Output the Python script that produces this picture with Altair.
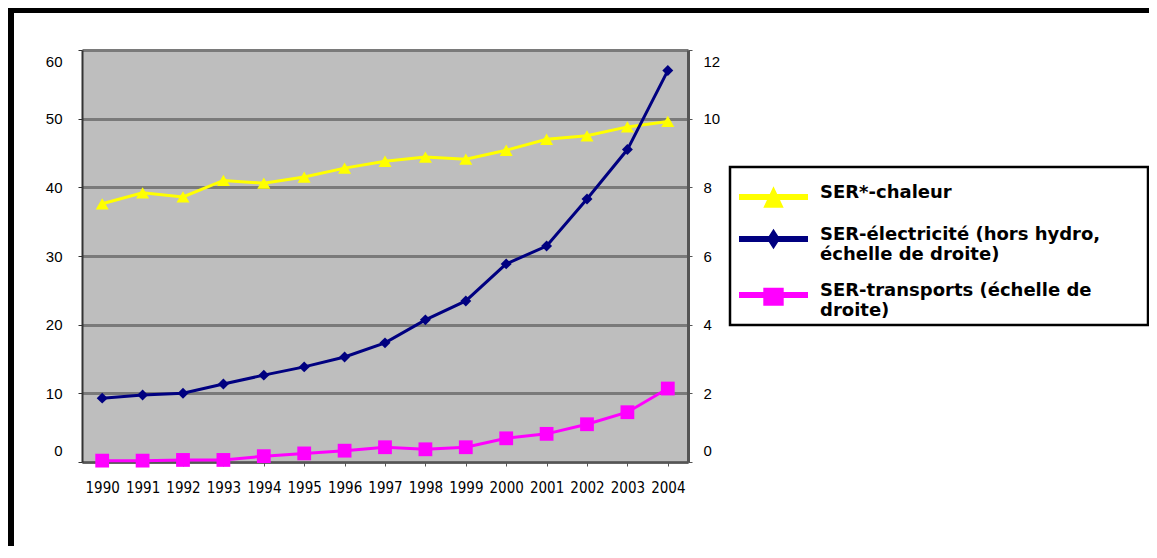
import altair as alt
import pandas as pd

# ---- data ----
years = [1990, 1991, 1992, 1993, 1994, 1995, 1996, 1997, 1998, 1999, 2000, 2001, 2002, 2003, 2004]
chaleur = [37.6, 39.2, 38.6, 41.0, 40.6, 41.5, 42.8, 43.8, 44.4, 44.1, 45.4, 47.0, 47.5, 48.8, 49.6]
electricite = [1.86, 1.95, 2.0, 2.27, 2.53, 2.77, 3.06, 3.47, 4.14, 4.69, 5.77, 6.29, 7.66, 9.1, 11.4]
transports = [0.04, 0.04, 0.06, 0.06, 0.17, 0.25, 0.33, 0.43, 0.37, 0.43, 0.69, 0.82, 1.10, 1.45, 2.14]

series_names = [
    "SER*-chaleur",
    "SER-électricité (hors hydro,|échelle de droite)",
    "SER-transports (échelle de|droite)",
]
series_colors = ["#ffff00", "#000080", "#ff00ff"]
left_ticks = [0, 10, 20, 30, 40, 50, 60]
right_ticks = [0, 2, 4, 6, 8, 10, 12]

# legend symbols: thick line + marker (custom paths, unit = 12 px, shifted down)
legend_paths = [
    "M-2.875,0.83L2.875,0.83L2.875,1.33L-2.875,1.33Z M0,0.18L0.85,1.98L-0.85,1.98Z",
    "M-2.875,0.83L2.875,0.83L2.875,1.33L-2.875,1.33Z M0,0.23L0.55,1.08L0,1.93L-0.55,1.08Z",
    "M-2.875,0.83L2.875,0.83L2.875,1.33L-2.875,1.33Z M-0.85,0.48L0.85,0.48L0.85,1.98L-0.85,1.98Z",
]

df_left = pd.DataFrame({"year": years, "value": chaleur, "series": series_names[0]})
df_elec = pd.DataFrame({"year": years, "value": electricite, "series": series_names[1]})
df_trans = pd.DataFrame({"year": years, "value": transports, "series": series_names[2]})
df_all = pd.concat([df_left, df_elec, df_trans], ignore_index=True)

X = alt.X(
    "year:O",
    scale=alt.Scale(type="point", padding=0.5),
    axis=alt.Axis(
        title=None, labelAngle=0,
        labelFont="Liberation Sans Narrow, DejaVu Sans Condensed, Liberation Sans",
        labelFontSize=15, labelPadding=14, tickSize=4, tickColor="#555555",
        domainColor="#555555", domainWidth=2, grid=False,
    ),
)

Y_left = alt.Y(
    "value:Q",
    scale=alt.Scale(domain=[0, 60], nice=False, zero=True),
    axis=alt.Axis(
        title=None, orient="left", values=left_ticks, grid=True, gridColor="#7a7a7a",
        gridWidth=3, labelFlush=True, labelFlushOffset=-4, labelPadding=16,
        tickSize=4, tickColor="#333333", domainColor="#333333", domainWidth=2,
        labelFont="Liberation Sans", labelFontSize=15,
    ),
)

Y_right = alt.Y(
    "value:Q",
    scale=alt.Scale(domain=[0, 12], nice=False, zero=True),
    axis=alt.Axis(
        title=None, orient="right", values=right_ticks, grid=False,
        labelFlush=True, labelFlushOffset=-4, labelPadding=11,
        tickSize=4, tickColor="#555555", domainColor="#555555", domainWidth=3,
        labelFont="Liberation Sans", labelFontSize=15,
    ),
)

legend_spec = alt.Legend(
    title=None, orient="none", legendX=648, legendY=117, direction="vertical",
    fillColor="white", strokeColor="black", padding=5,
    symbolSize=576, symbolStrokeWidth=0, symbolOffset=26.5, symbolOpacity=1,
    labelOffset=34.5, labelFont="DejaVu Sans", labelFontWeight="bold", labelFontSize=18,
    labelColor="black", labelBaseline="top", labelLimit=600,
    # blank braille cells pad the box to the reference width (invisible)
    labelExpr="split(replace(datum.label, 'hydro,', 'hydro,\u2800\u2800\u2800'), '|')",
    rowPadding=6,
)

# left-axis series
base_left = alt.Chart(df_left).encode(x=X, y=Y_left)
line_left = base_left.mark_line(color=series_colors[0], strokeWidth=3)
pts_left = base_left.mark_point(shape="triangle-up", filled=True, size=170,
                                color=series_colors[0], opacity=1)

legend_layer = alt.Chart(df_all).transform_filter("false").mark_point(
    filled=True, opacity=1, strokeWidth=0
).encode(
    x=X, y=Y_left,
    color=alt.Color("series:N", scale=alt.Scale(domain=series_names, range=series_colors),
                    legend=legend_spec),
    shape=alt.Shape("series:N", scale=alt.Scale(domain=series_names, range=legend_paths),
                    legend=legend_spec),
)

# decorative frame (slide border)
frame_df = pd.DataFrame({"k": [0]})
frame_top = alt.Chart(frame_df).mark_rule(color="black", strokeWidth=5).encode(
    x=alt.value(-74), x2=alt.value(1100), y=alt.value(-39.5)
)
frame_left = alt.Chart(frame_df).mark_rule(color="black", strokeWidth=6).encode(
    x=alt.value(-71), y=alt.value(-42), y2=alt.value(520)
)

left = alt.layer(line_left, pts_left, legend_layer, frame_top, frame_left)

# right-axis series
base_elec = alt.Chart(df_elec).encode(x=X, y=Y_right)
base_trans = alt.Chart(df_trans).encode(x=X, y=Y_right)
line_elec = base_elec.mark_line(color=series_colors[1], strokeWidth=3)
pts_elec = base_elec.mark_point(shape="diamond", filled=True, size=120,
                                color=series_colors[1], opacity=1)
line_trans = base_trans.mark_line(color=series_colors[2], strokeWidth=3)
pts_trans = base_trans.mark_point(shape="square", filled=True, size=190,
                                  color=series_colors[2], opacity=1)
right = alt.layer(line_elec, pts_elec, line_trans, pts_trans)

chart = (
    alt.layer(left, right)
    .resolve_scale(y="independent")
    .properties(
        width=606, height=412,
        autosize=alt.AutoSizeParams(type="none"),
        padding={"left": 74, "top": 42, "right": 461, "bottom": 84},
        background="white",
    )
    .configure_view(fill="#bebebe", strokeWidth=0)
    .configure_legend(strokeWidth=2.5)
    .configure_axis(labelColor="black")
)

chart.save("out.html", embed_options={"renderer": "svg", "actions": False})
